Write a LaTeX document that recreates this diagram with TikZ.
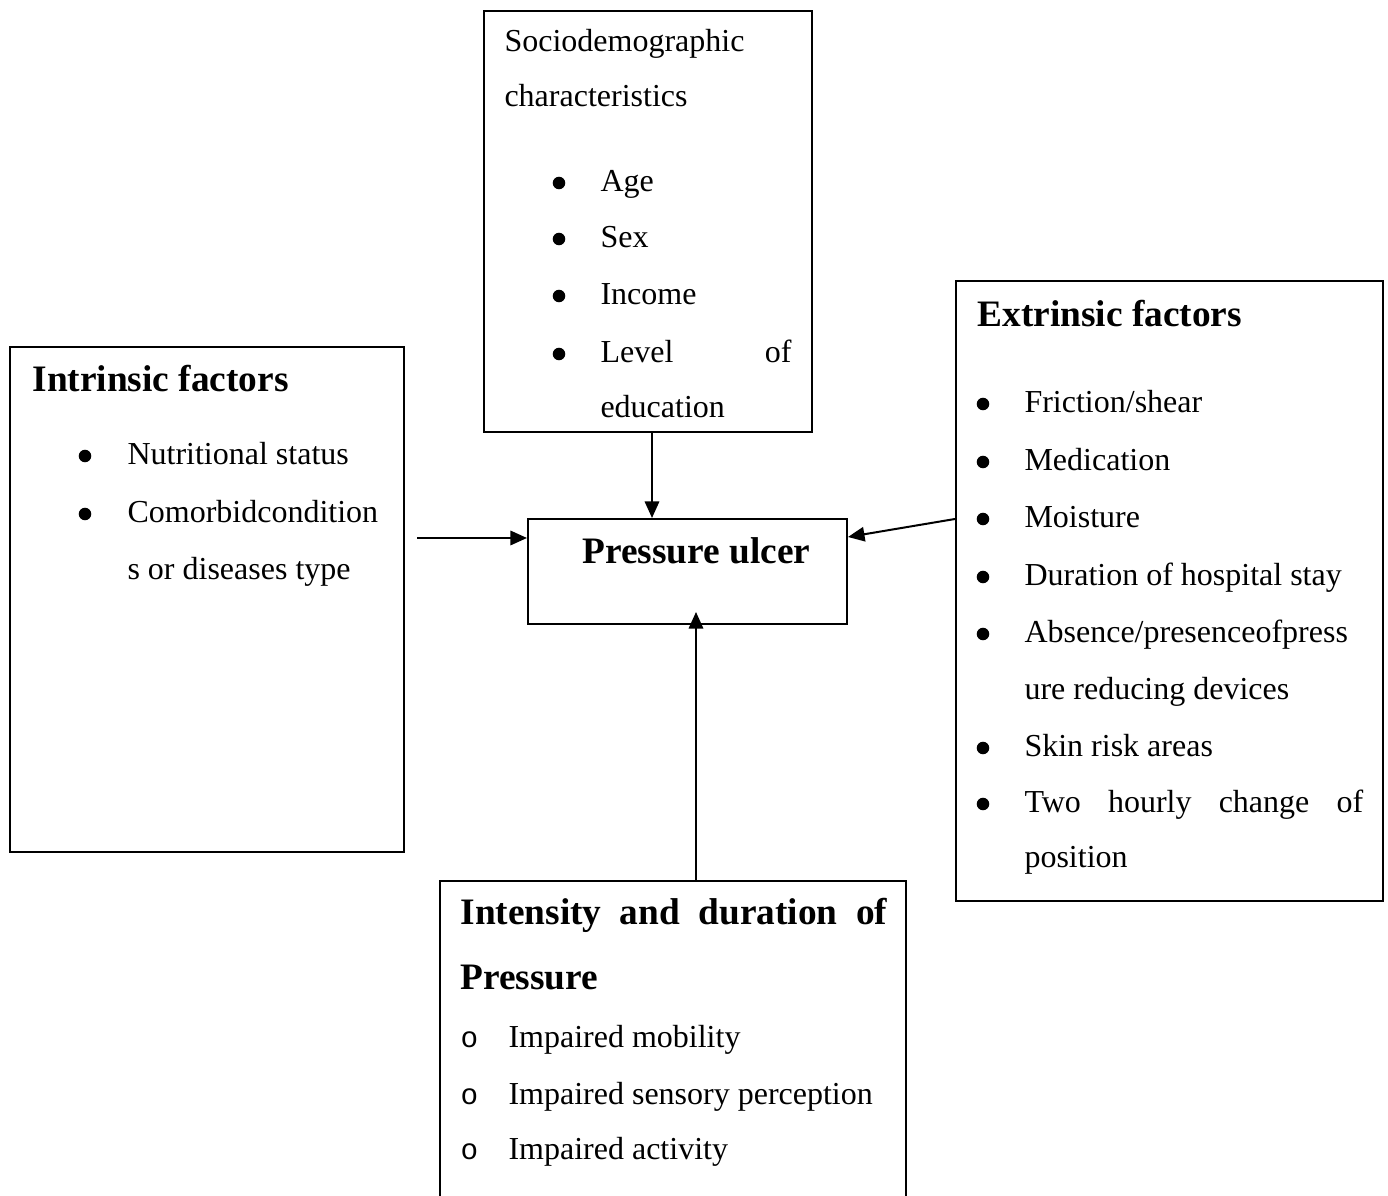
\documentclass[tikz,border=0pt]{standalone}
\usepackage{fontspec}
\setmainfont{Liberation Serif}
\setmonofont{Liberation Mono}
\usetikzlibrary{arrows.meta,fit,calc}
\begin{document}
\begin{tikzpicture}[x=0.375pt,y=-0.375pt,
  box/.style={draw,line width=0.75pt,inner sep=0pt},
  txt/.style={anchor=base west,inner sep=0pt,font=\fontsize{12}{14}\selectfont},
  txte/.style={anchor=base east,inner sep=0pt,font=\fontsize{12}{14}\selectfont},
  mono/.style={anchor=base west,inner sep=0pt,font=\fontsize{11}{14}\selectfont\ttfamily},
  head/.style={anchor=base west,inner sep=0pt,font=\fontsize{14}{16}\selectfont\bfseries},
  arr/.style={line width=0.75pt,-{Triangle[length=6.2pt,width=5.4pt]}}]
\useasboundingbox (0,0) rectangle (1388,1196);

% boxes
\node[box,fit={(484,11)(812,432)}] (socio) {};
\node[box,fit={(528,519)(847,624)}] (pu) {};
\node[box,fit={(10,347)(404,852)}] (intr) {};
\node[box,fit={(956,281)(1383,901)}] (extr) {};
\node[box,fit={(440,881)(906,1225)}] (intens) {};

% Sociodemographic
\node[txt] (s1) at (504,52) {Sociodemographic};
\node[txt] (s2) at (504,107) {characteristics};
\foreach \y in {192,248,305,363} \fill (559,\y-9) circle[radius=2.35pt];
\node[txt] (s3) at (600,192) {Age};
\node[txt] (s4) at (600,248) {Sex};
\node[txt] (s5) at (600,305) {Income};
\node[txt] (s6) at (600,363) {Level};
\node[txte] (s6b) at (792,363) {of};
\node[txt] (s7) at (600,418) {education};

% Pressure ulcer
\node[head] (put) at (582,564) {Pressure ulcer};

% Intrinsic
\node[head] (i0) at (32,392) {Intrinsic factors};
\foreach \y in {465,523} \fill (85,\y-9) circle[radius=2.35pt];
\node[txt] (i1) at (127,465) {Nutritional status};
\node[txt] (i2) at (127,523) {Comorbidcondition};
\node[txt] (i3) at (127,580) {s or diseases type};

% Extrinsic
\node[head] (e0) at (977,327) {Extrinsic factors};
\foreach \y in {413,471,528,586,643,757,813} \fill (983,\y-9) circle[radius=2.35pt];
\node[txt] (e1) at (1024,413) {Friction/shear};
\node[txt] (e2) at (1024,471) {Medication};
\node[txt] (e3) at (1024,528) {Moisture};
\node[txt] (e4) at (1024,586) {Duration of hospital stay};
\node[txt] (e5) at (1024,643) {Absence/presenceofpress};
\node[txt] (e6) at (1024,700) {ure reducing devices};
\node[txt] (e7) at (1024,757) {Skin risk areas};
\node[txt] (e8) at (1024,813) {\makebox[127pt][s]{Two\hfill hourly\hfill change\hfill of}};
\node[txt] (e9) at (1024,868) {position};

% Intensity
\node[head] (p0) at (460,925) {\makebox[160pt][s]{Intensity\hfill and\hfill duration\hfill of}};
\node[head] (p1) at (460,990) {Pressure};
\node[mono] (o1) at (460,1048) {o};
\node[mono] (o2) at (460,1105) {o};
\node[mono] (o3) at (460,1160) {o};
\node[txt] (p2) at (508,1048) {Impaired mobility};
\node[txt] (p3) at (508,1105) {Impaired sensory perception};
\node[txt] (p4) at (508,1160) {Impaired activity};

% connectors
\coordinate (ax) at (652,0);
\draw[arr] (socio.south -| ax) -- (pu.north -| ax);
\coordinate (lstart) at (417,538);
\draw[arr] (lstart) -- (lstart -| pu.west);
\coordinate (rstart) at (956,519);
\coordinate (rend) at (847,537);
\draw[arr] (extr.west |- rstart) -- (pu.east |- rend);
\coordinate (bx) at (696,612);
\draw[arr] (intens.north -| bx) -- (bx);
\end{tikzpicture}
\end{document}
